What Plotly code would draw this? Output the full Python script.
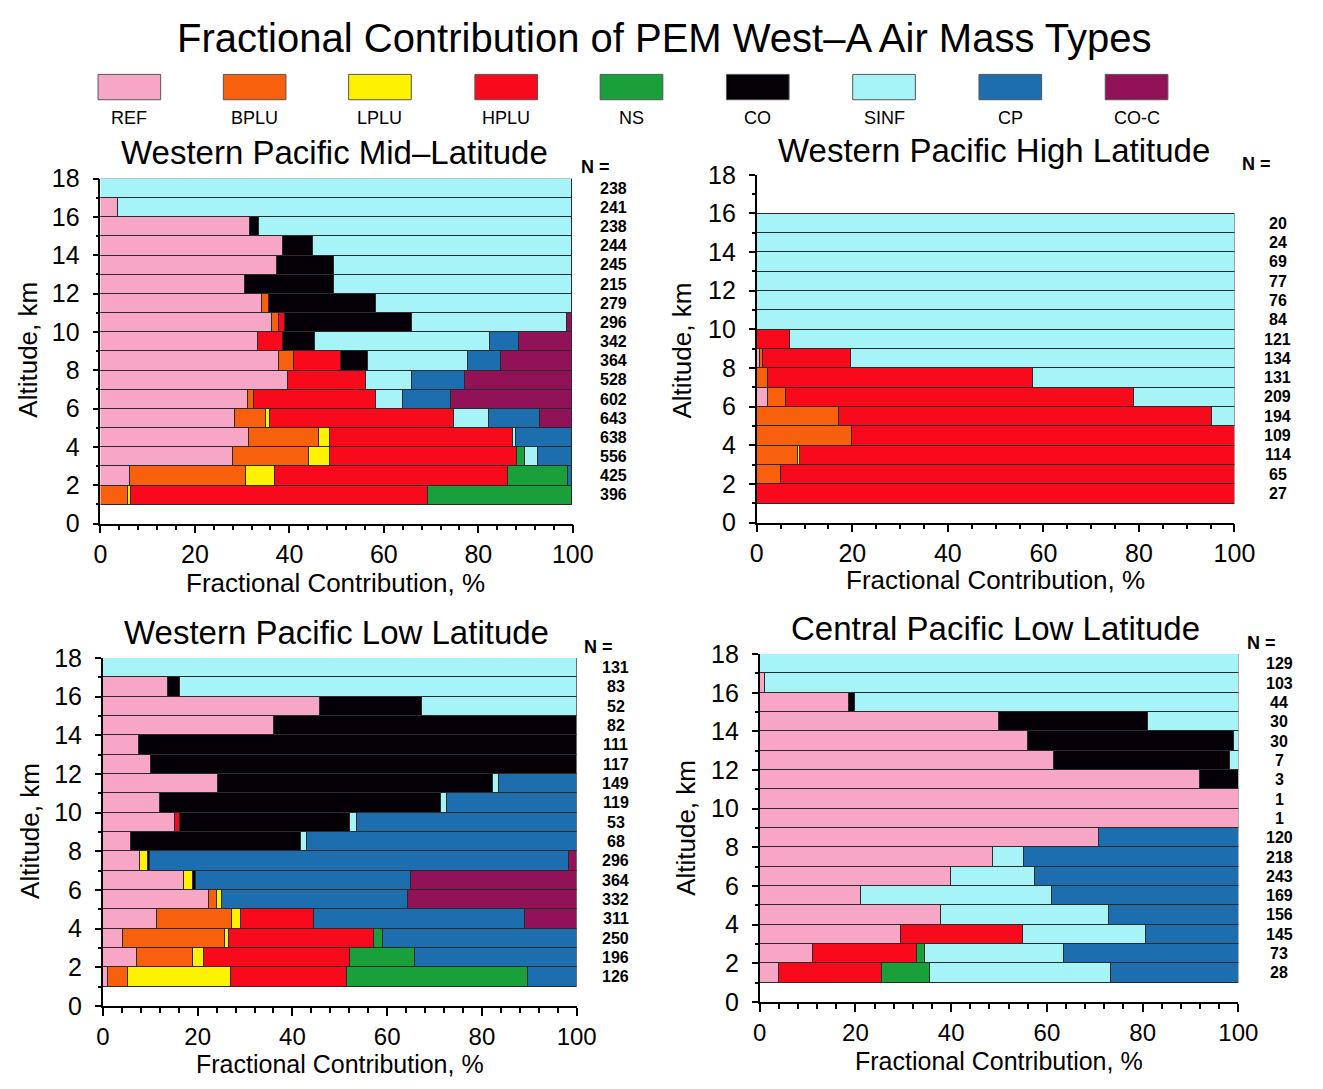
import plotly.graph_objects as go

W, H = 1323, 1089

CATEGORIES = ["REF", "BPLU", "LPLU", "HPLU", "NS", "CO", "SINF", "CP", "CO-C"]
COLORS = ["#F7A6C6", "#F8600E", "#FFF200", "#F80A1C", "#19A03A", "#050008",
          "#A6F4F8", "#1C6EAE", "#921257"]

PANEL_TITLES = ["Western Pacific Mid\u2013Latitude", "Western Pacific High Latitude",
                "Western Pacific Low Latitude", "Central Pacific Low Latitude"]

# altitude bin centres (km), bottom -> top
ALT_17 = [1.5, 2.5, 3.5, 4.5, 5.5, 6.5, 7.5, 8.5, 9.5, 10.5, 11.5, 12.5, 13.5, 14.5, 15.5, 16.5, 17.5]
ALT_15 = [1.5, 2.5, 3.5, 4.5, 5.5, 6.5, 7.5, 8.5, 9.5, 10.5, 11.5, 12.5, 13.5, 14.5, 15.5]

X_TICKS = [0, 20, 40, 60, 80, 100]
Y_TICKS = [0, 2, 4, 6, 8, 10, 12, 14, 16, 18]

# ---------------- Western Pacific Mid-Latitude (%), bottom -> top
WPM_REF  = [0, 6.3, 28.1, 31.6, 28.6, 31.4, 39.7, 37.8, 33.5, 36.4, 34.4, 30.7, 37.5, 38.7, 31.7, 3.9, 0]
WPM_BPLU = [6, 24.6, 16.1, 14.8, 6.6, 1.2, 0, 3.3, 0, 1.6, 1.3, 0, 0, 0, 0, 0, 0]
WPM_LPLU = [0.5, 6.2, 4.4, 2.3, 0.7, 0, 0, 0, 0, 0, 0, 0, 0, 0, 0, 0, 0]
WPM_HPLU = [63, 49.3, 39.7, 38.8, 39.1, 25.8, 16.6, 10, 5.2, 1.2, 0, 0, 0, 0, 0, 0, 0]
WPM_NS   = [30.5, 12.7, 1.7, 0, 0, 0, 0, 0, 0, 0, 0, 0, 0, 0, 0, 0, 0]
WPM_CO   = [0, 0, 0, 0, 0, 0, 0, 5.6, 6.9, 26.8, 22.7, 18.8, 12, 6.5, 2, 0, 0]
WPM_SINF = [0, 0, 2.8, 0.5, 7.4, 5.7, 9.8, 21.2, 37, 32.9, 41.6, 50.5, 50.5, 54.8, 66.3, 96.1, 100]
WPM_CP   = [0, 0.9, 7.2, 12, 10.7, 10.2, 11.1, 7, 6.2, 0, 0, 0, 0, 0, 0, 0, 0]
WPM_COC  = [0, 0, 0, 0, 6.9, 25.7, 22.8, 15.1, 11.2, 1.1, 0, 0, 0, 0, 0, 0, 0]
WPM_N    = [396, 425, 556, 638, 643, 602, 528, 364, 342, 296, 279, 215, 245, 244, 238, 241, 238]

# ---------------- Western Pacific High Latitude
WPH_REF  = [0, 0, 0, 0, 0, 2.3, 0, 0.7, 0, 0, 0, 0, 0, 0, 0]
WPH_BPLU = [0, 5, 8.6, 19.8, 17.2, 3.8, 2.3, 0.6, 0, 0, 0, 0, 0, 0, 0]
WPH_LPLU = [0, 0, 0.5, 0, 0, 0, 0, 0, 0, 0, 0, 0, 0, 0, 0]
WPH_HPLU = [100, 95, 90.9, 80.2, 78, 72.8, 55.4, 18.3, 7, 0, 0, 0, 0, 0, 0]
WPH_NS   = [0, 0, 0, 0, 0, 0, 0, 0, 0, 0, 0, 0, 0, 0, 0]
WPH_CO   = [0, 0, 0, 0, 0, 0, 0, 0, 0, 0, 0, 0, 0, 0, 0]
WPH_SINF = [0, 0, 0, 0, 4.8, 21.1, 42.3, 80.4, 93, 100, 100, 100, 100, 100, 100]
WPH_CP   = [0, 0, 0, 0, 0, 0, 0, 0, 0, 0, 0, 0, 0, 0, 0]
WPH_COC  = [0, 0, 0, 0, 0, 0, 0, 0, 0, 0, 0, 0, 0, 0, 0]
WPH_N    = [27, 65, 114, 109, 194, 209, 131, 134, 121, 84, 76, 77, 69, 24, 20]

# ---------------- Western Pacific Low Latitude
WPL_REF  = [1.1, 7.1, 4.2, 11.3, 22.3, 17.2, 7.9, 6, 15.3, 12.1, 24.2, 10.2, 7.7, 36, 45.7, 13.8, 0]
WPL_BPLU = [4.1, 12, 21.6, 16, 1.7, 0, 0, 0, 0, 0, 0, 0, 0, 0, 0, 0, 0]
WPL_LPLU = [21.9, 2.2, 0.7, 1.9, 1.2, 1.8, 1.6, 0, 0, 0, 0, 0, 0, 0, 0, 0, 0]
WPL_HPLU = [24.5, 30.9, 30.7, 15.3, 0, 0, 0, 0, 0.9, 0, 0, 0, 0, 0, 0, 0, 0]
WPL_NS   = [38.2, 13.6, 1.9, 0, 0, 0, 0, 0, 0, 0, 0, 0, 0, 0, 0, 0, 0]
WPL_CO   = [0, 0, 0, 0, 0, 0.6, 0.4, 35.8, 36, 59.2, 58.2, 89.8, 92.3, 64, 21.6, 2.4, 0]
WPL_SINF = [0, 0, 0, 0, 0, 0, 0, 1.2, 1.5, 1.4, 1.1, 0, 0, 0, 32.7, 83.8, 100]
WPL_CP   = [10.2, 34.2, 40.9, 44.6, 39.2, 45.5, 88.5, 57, 46.3, 27.3, 16.5, 0, 0, 0, 0, 0, 0]
WPL_COC  = [0, 0, 0, 10.9, 35.6, 34.9, 1.6, 0, 0, 0, 0, 0, 0, 0, 0, 0, 0]
WPL_N    = [126, 196, 250, 311, 332, 364, 296, 68, 53, 119, 149, 117, 111, 82, 52, 83, 131]

# ---------------- Central Pacific Low Latitude
CPL_REF  = [3.9, 11, 29.5, 37.9, 21, 39.9, 48.6, 70.8, 100, 100, 92, 61.4, 55.9, 49.9, 18.6, 1, 0]
CPL_BPLU = [0, 0, 0, 0, 0, 0, 0, 0, 0, 0, 0, 0, 0, 0, 0, 0, 0]
CPL_LPLU = [0, 0, 0, 0, 0, 0, 0, 0, 0, 0, 0, 0, 0, 0, 0, 0, 0]
CPL_HPLU = [21.5, 21.9, 25.4, 0, 0, 0, 0, 0, 0, 0, 0, 0, 0, 0, 0, 0, 0]
CPL_NS   = [10.1, 1.5, 0, 0, 0, 0, 0, 0, 0, 0, 0, 0, 0, 0, 0, 0, 0]
CPL_CO   = [0, 0, 0, 0, 0, 0, 0, 0, 0, 0, 8, 36.8, 43.2, 31.1, 1.2, 0, 0]
CPL_SINF = [37.8, 29.1, 25.8, 35, 40.1, 17.5, 6.6, 0, 0, 0, 0, 1.8, 0.9, 19, 80.2, 99, 100]
CPL_CP   = [26.7, 36.5, 19.3, 27.1, 38.9, 42.6, 44.8, 29.2, 0, 0, 0, 0, 0, 0, 0, 0, 0]
CPL_COC  = [0, 0, 0, 0, 0, 0, 0, 0, 0, 0, 0, 0, 0, 0, 0, 0, 0]
CPL_N    = [28, 73, 145, 156, 169, 243, 218, 120, 1, 1, 3, 7, 30, 30, 44, 103, 129]

PANELS = [
    (ALT_17, [WPM_REF, WPM_BPLU, WPM_LPLU, WPM_HPLU, WPM_NS, WPM_CO, WPM_SINF, WPM_CP, WPM_COC], WPM_N),
    (ALT_15, [WPH_REF, WPH_BPLU, WPH_LPLU, WPH_HPLU, WPH_NS, WPH_CO, WPH_SINF, WPH_CP, WPH_COC], WPH_N),
    (ALT_17, [WPL_REF, WPL_BPLU, WPL_LPLU, WPL_HPLU, WPL_NS, WPL_CO, WPL_SINF, WPL_CP, WPL_COC], WPL_N),
    (ALT_17, [CPL_REF, CPL_BPLU, CPL_LPLU, CPL_HPLU, CPL_NS, CPL_CO, CPL_SINF, CPL_CP, CPL_COC], CPL_N),
]

# ---------------- layout geometry (pixels)
def PX(x):
    return x / W

def PY(y):
    return 1 - y / H

# (x0, x100, y0, y18) pixel positions of each panel's axes
GEOM = [(95.5, 578, 523, 169), (766, 1254, 522, 165), (98, 582, 1018, 661), (769, 1258, 1014, 657)]
TITLE_POS = [(335, 142), (1008, 140), (337, 635), (1010, 631)]
XTITLE_POS = [(336, 584), (1010, 581), (340, 1078), (1013, 1075)]
XTITLE_SIZE = [26, 26, 25, 25]
YTITLE_POS = [(22, 345), (690, 345), (24, 838), (693, 835)]
NEQ_POS = [(601, 157), (1277, 154), (604, 650), (1282, 646)]
NCOL_X = [620, 1298, 622, 1300]
MINOR_X = [4, 5, 4, 4]

FONT = "Liberation Sans, Arial, sans-serif"

fig = go.Figure()
annotations = []
shapes = []

for p, (alts, series, nvals) in enumerate(PANELS):
    sfx = "" if p == 0 else str(p + 1)
    for cat, col, vals in zip(CATEGORIES, COLORS, series):
        xs = [v if v > 0 else None for v in vals]
        fig.add_trace(go.Bar(
            orientation="h", x=xs, y=alts, width=1.0,
            marker=dict(color=col, line=dict(color="#2a2a2a", width=1)),
            name=cat, showlegend=False, hovertemplate=cat + ": %{x}%<extra></extra>",
            xaxis="x" + sfx, yaxis="y" + sfx,
        ))
    x0, x1, y0, y1 = GEOM[p]
    ax = dict(domain=[PX(x0), PX(x1)], range=[0, 100], anchor="y" + sfx,
              tickvals=X_TICKS, ticks="outside", ticklen=8, tickwidth=1.5, tickcolor="black",
              showline=True, linecolor="black", linewidth=1.8, showgrid=False, zeroline=False,
              tickfont=dict(family=FONT, size=25 if p < 2 else 24, color="black"), ticklabelstandoff=0,
              minor=dict(dtick=MINOR_X[p], ticks="outside", ticklen=5, tickcolor="black", showgrid=False))
    ay = dict(domain=[PY(y0), PY(y1)], range=[0, 18], anchor="x" + sfx,
              tickvals=Y_TICKS, ticks="outside", ticklen=6, tickwidth=1.5, tickcolor="black",
              showline=True, linecolor="black", linewidth=1.8, showgrid=False, zeroline=False,
              tickfont=dict(family=FONT, size=25, color="black"), ticklabelstandoff=8,
              minor=dict(dtick=1, ticks="outside", ticklen=3, tickcolor="black", showgrid=False))
    fig.layout["xaxis" + sfx] = ax
    fig.layout["yaxis" + sfx] = ay

    tx, ty = TITLE_POS[p]
    annotations.append(dict(x=PX(tx), y=PY(ty), xref="paper", yref="paper", text=PANEL_TITLES[p],
                            showarrow=False, xanchor="center", yanchor="middle",
                            font=dict(family=FONT, size=33, color="black")))
    tx, ty = XTITLE_POS[p]
    annotations.append(dict(x=PX(tx), y=PY(ty), xref="paper", yref="paper", text="Fractional Contribution, %",
                            showarrow=False, xanchor="center", yanchor="middle",
                            font=dict(family=FONT, size=XTITLE_SIZE[p], color="black")))
    tx, ty = YTITLE_POS[p]
    annotations.append(dict(x=PX(tx), y=PY(ty), xref="paper", yref="paper", text="Altitude, km",
                            showarrow=False, xanchor="center", yanchor="middle", textangle=-90,
                            font=dict(family=FONT, size=26, color="black")))
    tx, ty = NEQ_POS[p]
    annotations.append(dict(x=PX(tx), y=PY(ty), xref="paper", yref="paper", text="<b>N =</b>",
                            showarrow=False, xanchor="center", yanchor="middle",
                            font=dict(family=FONT, size=18, color="black")))
    for a, n in zip(alts, nvals):
        annotations.append(dict(x=PX(NCOL_X[p]), y=a, xref="paper", yref="y" + sfx, text="<b>%d</b>" % n,
                                showarrow=False, xanchor="center", yanchor="middle",
                                font=dict(family=FONT, size=16, color="black")))

# main title
annotations.append(dict(x=PX(672), y=PY(25), xref="paper", yref="paper",
                        text="Fractional Contribution of PEM West\u2013A Air Mass Types",
                        showarrow=False, xanchor="center", yanchor="middle",
                        font=dict(family=FONT, size=40, color="black")))

# legend swatches
SW_X = [93, 221, 349, 478, 606, 735, 864, 993, 1122]
for cat, col, sx in zip(CATEGORIES, COLORS, SW_X):
    shapes.append(dict(type="rect", xref="paper", yref="paper", x0=PX(sx), x1=PX(sx + 64),
                       y0=PY(88), y1=PY(62), fillcolor=col, line=dict(color="#555", width=1)))
    annotations.append(dict(x=PX(sx + 32), y=PY(107), xref="paper", yref="paper", text=cat,
                            showarrow=False, xanchor="center", yanchor="middle",
                            font=dict(family=FONT, size=18, color="black")))

fig.update_layout(
    width=W, height=H, margin=dict(l=0, r=0, t=0, b=0),
    paper_bgcolor="white", plot_bgcolor="white",
    barmode="stack", bargap=0, showlegend=False,
    annotations=annotations, shapes=shapes,
)

fig.write_html("out.html")
